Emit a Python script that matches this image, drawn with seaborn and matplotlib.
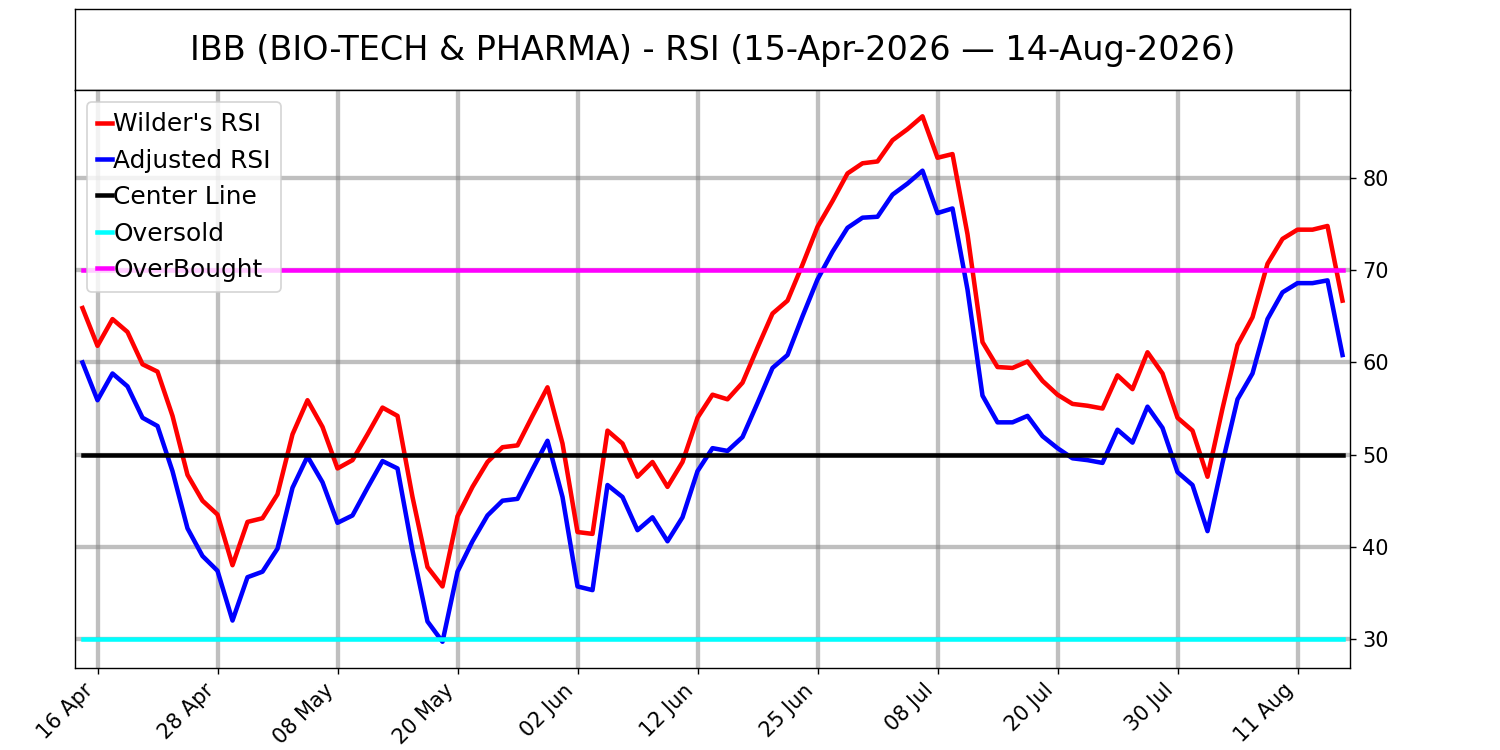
import numpy as np
import pandas as pd
import matplotlib
matplotlib.use("Agg")
import matplotlib.pyplot as plt
import seaborn as sns

# trading days, NYSE holidays skipped
holidays = ["2026-05-25", "2026-06-19", "2026-07-03"]
dates = pd.bdate_range("2026-04-15", "2026-08-14", freq="C", holidays=holidays)

wilder_rsi = [
    65.9, 61.8, 64.7, 63.3, 59.8, 59.0, 54.2, 47.8, 45.0, 43.5,
    38.0, 42.7, 43.1, 45.7, 52.2, 55.9, 53.0, 48.5, 49.4, 52.2,
    55.1, 54.2, 45.4, 37.8, 35.7, 43.3, 46.5, 49.2, 50.8, 51.0,
    54.2, 57.3, 51.2, 41.6, 41.4, 52.6, 51.2, 47.6, 49.2, 46.5,
    49.2, 54.0, 56.5, 56.0, 57.8, 61.6, 65.3, 66.7, 70.6, 74.7,
    77.5, 80.5, 81.6, 81.8, 84.1, 85.3, 86.7, 82.2, 82.6, 73.9,
    62.2, 59.5, 59.4, 60.1, 58.0, 56.5, 55.5, 55.3, 55.0, 58.6,
    57.1, 61.1, 58.8, 54.0, 52.6, 47.6, 55.0, 61.9, 64.9, 70.7,
    73.4, 74.4, 74.4, 74.8, 66.7,
]
adjusted_rsi = [
    60.0, 55.9, 58.8, 57.4, 54.0, 53.1, 48.2, 42.0, 39.0, 37.4,
    32.0, 36.7, 37.3, 39.8, 46.4, 49.8, 47.0, 42.6, 43.4, 46.4,
    49.3, 48.5, 39.6, 31.9, 29.7, 37.3, 40.6, 43.4, 45.0, 45.2,
    48.4, 51.5, 45.4, 35.7, 35.3, 46.7, 45.4, 41.8, 43.2, 40.6,
    43.2, 48.2, 50.7, 50.4, 51.9, 55.6, 59.4, 60.8, 65.0, 69.0,
    72.0, 74.6, 75.7, 75.8, 78.2, 79.4, 80.8, 76.2, 76.7, 67.9,
    56.4, 53.5, 53.5, 54.2, 52.0, 50.7, 49.6, 49.4, 49.1, 52.7,
    51.3, 55.2, 52.9, 48.1, 46.7, 41.7, 49.1, 56.0, 58.8, 64.7,
    67.6, 68.6, 68.6, 68.9, 60.8,
]
center_level = 50
oversold_level = 30
overbought_level = 70

df = pd.DataFrame({
    "idx": np.arange(len(dates)),
    "Wilder's RSI": wilder_rsi,
    "Adjusted RSI": adjusted_rsi,
    "Center Line": center_level,
    "Oversold": oversold_level,
    "OverBought": overbought_level,
})
colors = {
    "Wilder's RSI": "red",
    "Adjusted RSI": "blue",
    "Center Line": "black",
    "Oversold": "cyan",
    "OverBought": "magenta",
}

fig = plt.figure(figsize=(12, 6), dpi=125)
ax_title = fig.add_axes([0.05, 0.88, 0.85, 0.108])
ax = fig.add_axes([0.05, 0.1093, 0.85, 0.7707])

ax_title.set_xticks([])
ax_title.set_yticks([])
ax_title.text(0.5, 0.49, "IBB (BIO-TECH & PHARMA) - RSI (15-Apr-2026 \u2014 14-Aug-2026)",
              ha="center", va="center", fontsize=19.3)

for col, c in colors.items():
    sns.lineplot(data=df, x="idx", y=col, color=c, linewidth=2.6, label=col, ax=ax)

tick_pos = list(range(1, len(dates), 8))
ax.set_xticks(tick_pos)
ax.set_xticklabels([dates[i].strftime("%d %b") for i in tick_pos], rotation=45, ha="right")
ax.set_xlim(-0.5, len(dates) - 0.5)
ax.yaxis.tick_right()
ax.tick_params(labelsize=12)
ax.set_xlabel("")
ax.set_ylabel("")
ax.grid(True, color="gray", alpha=0.5, linewidth=2.5)

ax.legend(loc="upper left", fontsize=14.3, handlelength=0.6, handletextpad=0.05,
          borderaxespad=0.5)

plt.savefig("out.png", dpi=125)
plt.close()
